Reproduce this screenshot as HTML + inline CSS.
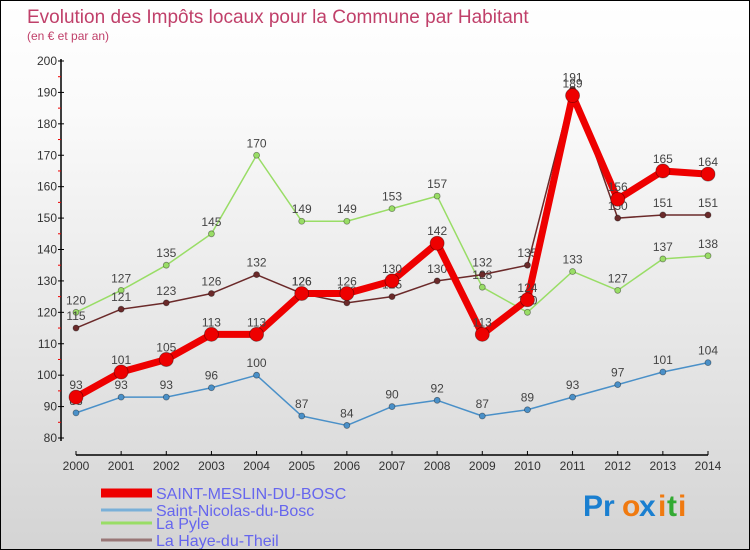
<!DOCTYPE html>
<html><head><meta charset="utf-8"><style>
body{margin:0}
#c{position:relative;width:748px;height:548px;border:1px solid #000;background:linear-gradient(#fff,#fafafa 20%,#d4d4d4);font-family:"Liberation Sans",sans-serif;overflow:hidden}
</style></head><body>
<div id="c">
<svg width="748" height="548" id="svg">
<text x="26" y="22" font-size="19" fill="#c0406a">Evolution des Impôts locaux pour la Commune par Habitant</text>
<text x="26" y="39" font-size="12" fill="#c0406a">(en € et par an)</text>
<g id="axes"></g><g id="series"></g>
<g>
<line x1="100" y1="492" x2="151" y2="492" stroke="#e00" stroke-width="9"/>
<text x="155" y="498" font-size="16" fill="#6666ee">SAINT-MESLIN-DU-BOSC</text>
<line x1="100" y1="509" x2="151" y2="509" stroke="#7ab0d8" stroke-width="3"/>
<text x="155" y="515" font-size="16" fill="#6666ee">Saint-Nicolas-du-Bosc</text>
<line x1="100" y1="522" x2="151" y2="522" stroke="#99dd66" stroke-width="3"/>
<text x="155" y="528" font-size="16" fill="#6666ee">La Pyle</text>
<line x1="100" y1="539" x2="151" y2="539" stroke="#997777" stroke-width="3"/>
<text x="155" y="545" font-size="16" fill="#6666ee">La Haye-du-Theil</text>
</g>
<g font-size="30" font-weight="bold">
<text x="582" y="515" fill="#1a7fd0">Pr</text><text x="621" y="515" fill="#f07a10">o</text><text x="638" y="515" fill="#1a7fd0">x</text><text x="657" y="515" fill="#f07a10">i</text><text x="666" y="515" fill="#33aa33">t</text><text x="677" y="515" fill="#f07a10">i</text>
</g>
</svg></div>
<script>
const years=[2000,2001,2002,2003,2004,2005,2006,2007,2008,2009,2010,2011,2012,2013,2014];
const saintMeslin=[93,101,105,113,113,126,126,130,142,113,124,189,156,165,164];
const saintNicolas=[88,93,93,96,100,87,84,90,92,87,89,93,97,101,104];
const laPyle=[120,127,135,145,170,149,149,153,157,128,120,133,127,137,138];
const laHaye=[115,121,123,126,132,126,123,125,130,132,135,191,150,151,151];
const yTicks=[80,90,100,110,120,130,140,150,160,170,180,190,200];
const NS="http://www.w3.org/2000/svg";
const X=i=>75+i*(707-75)/14;
const Y=v=>60+(200-v)*(377/120);
function mk(t,a,p){const e=document.createElementNS(NS,t);for(const k in a)e.setAttribute(k,a[k]);p.appendChild(e);return e;}
const ax=document.getElementById('axes');
const yl=mk('line',{x1:60,y1:58,x2:60,y2:440,stroke:'#000','stroke-width':1.5},ax);


yTicks.forEach(v=>{
 mk('line',{x1:57,y1:Y(v),x2:63,y2:Y(v),stroke:'#000'},ax);
 if(v<200) mk('line',{x1:57,y1:Y(v+5),x2:60,y2:Y(v+5),stroke:'#e00'},ax);
 const t=mk('text',{x:56,y:Y(v)+4,'font-size':12,'text-anchor':'end',fill:'#333'},ax);t.textContent=v;
 
 
});
const xl=mk('line',{x1:75,y1:454,x2:707,y2:454,stroke:'#000','stroke-width':1.5},ax);


years.forEach((y,i)=>{
 mk('line',{x1:X(i),y1:450,x2:X(i),y2:454,stroke:'#000'},ax);
 const t=mk('text',{x:X(i),y:469,'font-size':12,'text-anchor':'middle',fill:'#333'},ax);t.textContent=y;
 
 
});
const sg=document.getElementById('series');
function draw(name,data,col,w,r){
 const g=mk('g',{},sg);
 
 
 mk('polyline',{points:data.map((v,i)=>X(i)+','+Y(v)).join(' '),fill:'none',stroke:col,'stroke-width':w,'stroke-linejoin':'round'},g);
 data.forEach((v,i)=>{
  const c=mk('circle',{cx:X(i),cy:Y(v),r:r,fill:col,stroke:'rgba(0,0,0,0.4)','stroke-width':0.8},g);
  
  
  const t=mk('text',{x:X(i),y:Y(v)-8,'font-size':12,'text-anchor':'middle',fill:'#444'},g);t.textContent=v;
  
  
 });
}
draw('saint-nicolas',saintNicolas,'#4a90c8',1.5,3);
draw('la-pyle',laPyle,'#99dd66',1.5,3);
draw('la-haye',laHaye,'#6b2a2a',1.5,3);
draw('saint-meslin',saintMeslin,'#ee0000',7,7);
</script>
</body></html>
